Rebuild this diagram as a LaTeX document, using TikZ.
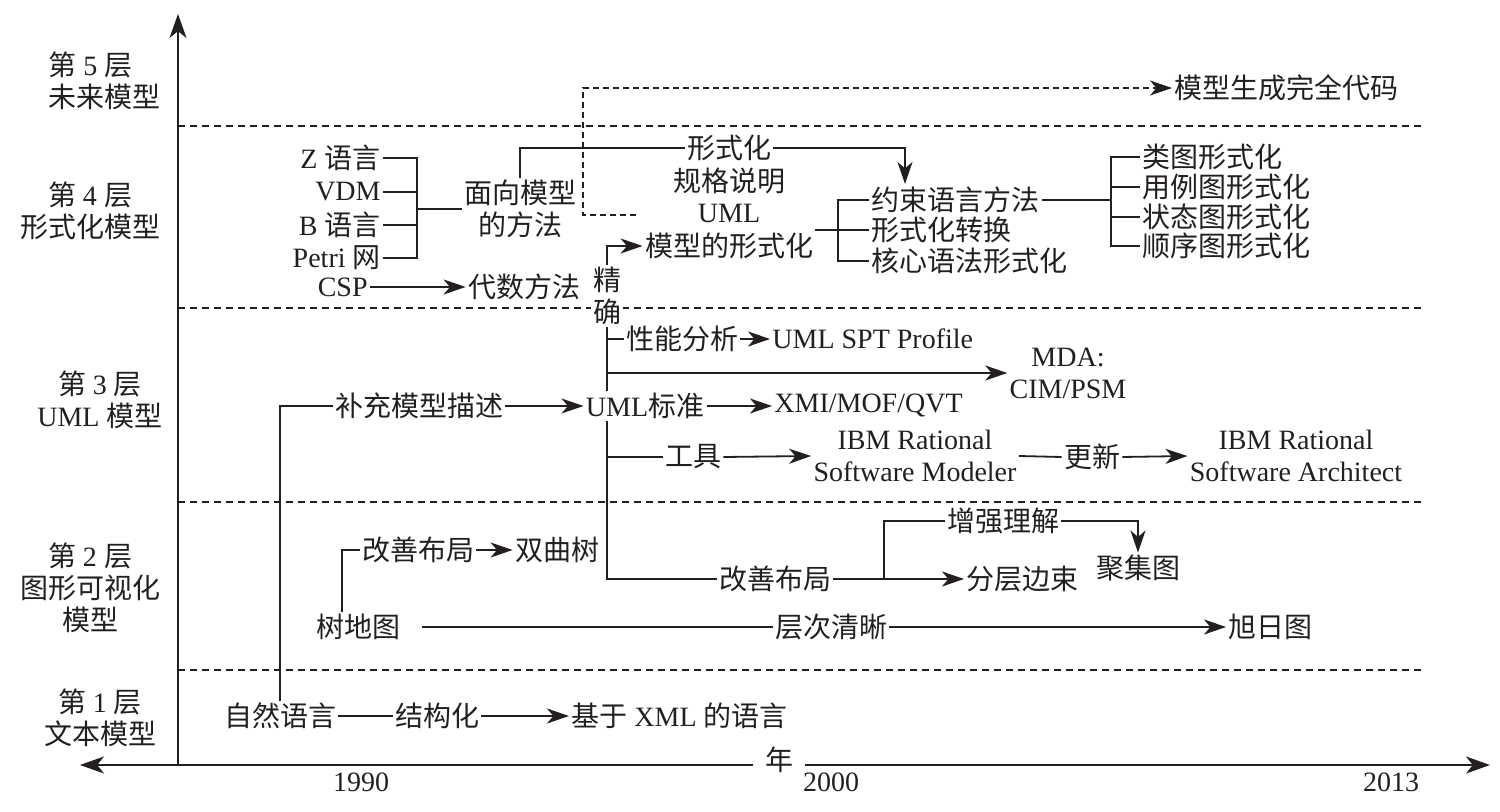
\documentclass[tikz,border=0pt]{standalone}
\usepackage{fontspec}
\setmainfont{Liberation Serif}
\newfontfamily\cjk{Noto Sans CJK SC}
\newcommand{\zh}[1]{{\cjk #1}}
\usetikzlibrary{arrows.meta}
\definecolor{ink}{RGB}{35,31,32}
\tikzset{
  txt/.style={inner sep=1pt, text=ink, font=\fontsize{14}{16}\selectfont},
  mtxt/.style={txt, align=center},
  link/.style={line width=0.9pt, draw=ink},
  arr/.style={link, -{Stealth[length=11pt,width=7.5pt,inset=3.2pt]}},
  axis/.style={link, {Stealth[length=12pt,width=8.5pt,inset=3.4pt]}-{Stealth[length=12pt,width=8.5pt,inset=3.4pt]}},
  sep/.style={line width=0.6pt, draw=ink, dash pattern=on 3.5pt off 2.5pt},
}
\begin{document}
\begin{tikzpicture}[x=0.5pt,y=0.5pt,yscale=-1,xscale=1]
\useasboundingbox (0,0) rectangle (1500,812);

% Axes
\coordinate (o) at (178,765);
\coordinate (ytop) at (178,14);
\coordinate (xleft) at (80,765);
\coordinate (xright) at (1490,765);
\draw [axis] (xleft) -- (xright);
\draw [link, -{Stealth[length=12pt,width=8.5pt,inset=3.4pt]}] (o) -- (ytop);
\node (nian) [txt, fill=white, inner xsep=6pt] at (779,760) {\zh{年}};
\node (y90) [txt] at (361,782) {1990};
\node (y00) [txt] at (831,782) {2000};
\node (y13) [txt] at (1391,782) {2013};

% Layer separators
\foreach \y in {126,308,502,670}
  \draw [sep] (178,\y) -- (1422,\y);

% Layer labels
\node (c5) [mtxt, align=left, anchor=west] at (46,81) {\zh{第} 5 \zh{层}\\\zh{未来模型}};
\node (c4) [mtxt] at (90,211) {\zh{第} 4 \zh{层}\\\zh{形式化模型}};
\node (c3) [mtxt] at (100,400) {\zh{第} 3 \zh{层}\\UML \zh{模型}};
\node (c2) [mtxt] at (90,588) {\zh{第} 2 \zh{层}\\\zh{图形可视化}\\\zh{模型}};
\node (c1) [mtxt] at (100,718) {\zh{第} 1 \zh{层}\\\zh{文本模型}};

% Layer 5
\node (wm) [txt, anchor=west] at (1172,88) {\zh{模型生成完全代码}};
\coordinate (dstart) at (636,215);
\coordinate (dbend) at (583,215);
\draw [arr, line width=0.6pt, dash pattern=on 3pt off 2pt] (dstart) -- (dbend) |- (wm.west);

% Layer 4
\node (zy) [txt, anchor=east] at (383,158) {Z \zh{语言}};
\node (vdm) [txt, anchor=east] at (383,192) {VDM};
\node (by) [txt, anchor=east] at (383,225) {B \zh{语言}};
\node (pw) [txt, anchor=east] at (383,258) {Petri \zh{网}};
\node (csp) [txt, anchor=east] at (370,287) {CSP};
\node (ds) [txt] at (524,287) {\zh{代数方法}};
\coordinate (brA) at (417,209);
\draw [link] (zy.east) -| (brA);
\draw [link] (vdm.east) -| (brA);
\draw [link] (by.east) -| (brA);
\draw [link] (pw.east) -| (brA);
\node (mx) [mtxt] at (520,209) {\zh{面向模型}\\\zh{的方法}};
\draw [link] (brA) -- (mx.west);
\draw [arr] (csp.east) -- (ds.west);

\node (xs) [txt] at (729,148) {\zh{形式化}};
\node (gg) [txt] at (729,181) {\zh{规格说明}};
\node (uml) [txt] at (729,213) {UML};
\node (mf) [txt] at (729,246) {\zh{模型的形式化}};
\draw [link] (mx.north) |- (xs.west);
\coordinate (ysin) at (905,184);
\draw [arr] (xs.east) -| (ysin);

\node (jq) [mtxt, fill=white] at (607,296) {\zh{精}\\\zh{确}};
\draw [arr] (jq.north) |- (mf.west);

\node (ys) [txt, anchor=west] at (869,200) {\zh{约束语言方法}};
\node (xh) [txt, anchor=west] at (869,230) {\zh{形式化转换}};
\node (hx) [txt, anchor=west] at (869,261) {\zh{核心语法形式化}};
\coordinate (brC) at (838,230);
\draw [link] (ys.west) -| (brC) |- (hx.west);
\draw [link] (mf.east |- brC) -- (xh.west);

\coordinate (brD) at (1111,200);
\draw [link] (ys.east) -- (brD);
\node (lt) [txt, anchor=west] at (1140,157) {\zh{类图形式化}};
\node (yl) [txt, anchor=west] at (1140,187) {\zh{用例图形式化}};
\node (zt) [txt, anchor=west] at (1140,217) {\zh{状态图形式化}};
\node (sx) [txt, anchor=west] at (1140,246) {\zh{顺序图形式化}};
\draw [link] (lt.west) -| (brD) |- (sx.west);
\draw [link] (brD |- yl.west) -- (yl.west);
\draw [link] (brD |- zt.west) -- (zt.west);

% Layer 3
\node (xn) [txt] at (682,339) {\zh{性能分析}};
\node (spt) [txt, anchor=west] at (770,339) {UML SPT Profile};
\draw [link] (jq |- xn.west) -- (xn.west);
\draw [arr] (xn.east) -- (spt.west);

\node (mda) [mtxt] at (1068,373) {MDA:\\CIM/PSM};
\draw [arr] (jq |- mda.west) -- (mda.west);

\node (bc) [txt] at (419,406) {\zh{补充模型描述}};
\node (umlb) [txt] at (645,406) {UML\zh{标准}};
\node (xmi) [txt, anchor=west] at (772,406) {XMI/MOF/QVT};
\draw [arr] (bc.east) -- (umlb.west);
\draw [arr] (umlb.east) -- (xmi.west);
\draw [link] (jq.south) -- (jq |- umlb.north);

\node (gj) [txt] at (693,457) {\zh{工具}};
\draw [link] (jq |- gj.west) -- (gj.west);
\node (ibm1) [mtxt] at (915,456) {IBM Rational\\Software Modeler};
\draw [arr] (gj.east) -- (ibm1.west);
\node (gx) [txt] at (1092,457) {\zh{更新}};
\draw [link] (ibm1.east) -- (gx.west);
\node (ibm2) [mtxt] at (1296,456) {IBM Rational\\Software Architect};
\draw [arr] (gx.east) -- (ibm2.west);

% Layer 2
\node (sdt) [txt] at (358,627) {\zh{树地图}};
\node (gs1) [txt] at (418,550) {\zh{改善布局}};
\node (sqs) [txt] at (557,550) {\zh{双曲树}};
\draw [link] ([xshift=-8pt]sdt.north) |- (gs1.west);
\draw [arr] (gs1.east) -- (sqs.west);
\node (cc) [txt] at (831,627) {\zh{层次清晰}};
\node (xr) [txt, anchor=west] at (1226,627) {\zh{旭日图}};
\draw [link] ([xshift=10pt]sdt.east) -- (cc.west);
\draw [arr] (cc.east) -- (xr.west);

\node (gb2) [txt] at (775,579) {\zh{改善布局}};
\node (fc) [txt, anchor=west] at (964,579) {\zh{分层边束}};
\draw [link] (jq |- umlb.south) |- (gb2.west);
\draw [arr] (gb2.east) -- (fc.west);
\coordinate (brB) at (884,579);
\node (zq) [txt] at (1003,521) {\zh{增强理解}};
\node (jjt) [txt] at (1138,568) {\zh{聚集图}};
\draw [link] (brB) |- (zq.west);
\draw [arr] (zq.east) -| (jjt.north);

% Layer 1
\node (zr) [txt] at (280,716) {\zh{自然语言}};
\node (jg) [txt] at (437,716) {\zh{结构化}};
\node (xml) [txt, anchor=west] at (569,716) {\zh{基于} XML \zh{的语言}};
\draw [link] (zr.east) -- (jg.west);
\draw [arr] (jg.east) -- (xml.west);
\draw [link] (zr.north) |- (bc.west);

\end{tikzpicture}
\end{document}
